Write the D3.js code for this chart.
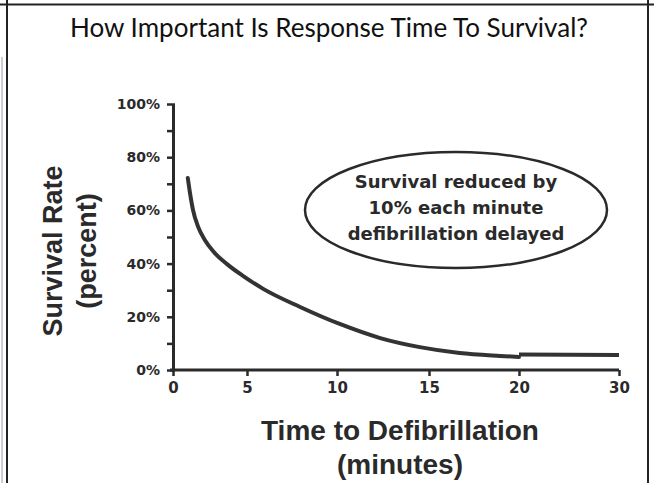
<!DOCTYPE html>
<html>
<head>
<meta charset="utf-8">
<script src="https://cdn.jsdelivr.net/npm/d3@7"></script>
<style>
  html, body { margin: 0; padding: 0; background: #fff; }
  svg { display: block; }
</style>
</head>
<body>
<div id="chart"></div>
<script>
// chart data
const chartTitle = 'How Important Is Response Time To Survival?';
const decayMinutes = [1, 1.15, 1.35, 1.7, 2.15, 2.7, 3.65, 4.75, 5.9, 7.95, 10.15, 12.35, 14.5, 16.7, 18.95, 20];
const decayRates   = [72.2, 66.5, 60.2, 53.8, 48.9, 44.7, 39.8, 35.3, 30.5, 23.7, 17.3, 12.0, 8.6, 6.4, 5.3, 4.9];
const plateauMinutes = [20, 30];
const plateauRates   = [5.8, 5.6];
const xTickValues = [0, 5, 10, 15, 20, 30];
const yTickValues = d3.range(0, 101, 10);
const calloutLines = ['Survival reduced by', '10% each minute', 'defibrillation delayed'];
const yTitleLines = ['Survival Rate', '(percent)'];
const xTitleLines = ['Time to Defibrillation', '(minutes)'];

const W = 654, H = 483;
const margin = { top: 104, right: 35, bottom: 113, left: 173 };
const width = W - margin.left - margin.right;
const height = H - margin.top - margin.bottom;
const ink = '#2a2a2a';

const svg = d3.select('#chart').append('svg')
  .attr('width', W)
  .attr('height', H);

// frame of the scanned page
svg.append('line').attr('x1', 7).attr('x2', 7).attr('y1', 0).attr('y2', H)
  .attr('stroke', '#222').attr('stroke-width', 2);
svg.append('line').attr('x1', 648).attr('x2', 648).attr('y1', 0).attr('y2', H)
  .attr('stroke', '#222').attr('stroke-width', 2);
svg.append('line').attr('x1', 0).attr('x2', W).attr('y1', 4.5).attr('y2', 4.5)
  .attr('stroke', '#222').attr('stroke-width', 2);
svg.append('line').attr('x1', 2).attr('x2', 2).attr('y1', 57).attr('y2', H)
  .attr('stroke', '#b8bcc4').attr('stroke-width', 1.5);

// title, fit to the width it has in the reference
const title = svg.append('text')
  .attr('x', 329).attr('y', 37)
  .attr('text-anchor', 'middle')
  .style('font-family', 'Lato, "Open Sans", sans-serif')
  .style('font-size', '21px')
  .attr('fill', '#111')
  .text(chartTitle);
const tw = title.node().getComputedTextLength();
title.style('font-size', (21 * 518 / tw).toFixed(2) + 'px');

const g = svg.append('g').attr('transform', `translate(${margin.left},${margin.top})`);

// the printed x axis is not evenly spaced, so map it piecewise
const x = d3.scaleLinear()
  .domain(xTickValues)
  .range([0, 74, 164, 256, 346, 446].map(p => p / 446 * width));
const y = d3.scaleLinear().domain([0, 100]).range([height, 0]);

// y axis
const yAxis = g.append('g')
  .call(d3.axisLeft(y)
    .tickValues(yTickValues)
    .tickSizeInner(6)
    .tickSizeOuter(0)
    .tickPadding(7)
    .tickFormat(d => d % 20 === 0 ? d + '%' : ''));
yAxis.select('.domain').attr('stroke', ink).attr('stroke-width', 3);
yAxis.selectAll('.tick line').attr('x2', -6).attr('x1', 2).attr('stroke', ink).attr('stroke-width', 2.5);
yAxis.selectAll('.tick text')
  .style('font-family', '"DejaVu Sans", sans-serif')
  .style('font-weight', 'bold')
  .style('font-size', '14px')
  .attr('fill', ink);

// x axis
const xAxis = g.append('g')
  .attr('transform', `translate(0,${height})`)
  .call(d3.axisBottom(x)
    .tickValues(xTickValues)
    .tickSizeInner(6)
    .tickSizeOuter(0)
    .tickPadding(6));
xAxis.select('.domain').attr('stroke', ink).attr('stroke-width', 3).attr('d', `M-3,0H${width}`);
xAxis.selectAll('.tick line').attr('stroke', ink).attr('stroke-width', 2.5);
xAxis.selectAll('.tick text')
  .style('font-family', '"DejaVu Sans", sans-serif')
  .style('font-weight', 'bold')
  .style('font-size', '15px')
  .attr('fill', ink);

// survival curve
const line = d3.line()
  .x(d => x(d[0]))
  .y(d => y(d[1]))
  .curve(d3.curveMonotoneX);

g.append('path')
  .datum(decayMinutes.map((m, i) => [m, decayRates[i]]))
  .attr('d', line)
  .attr('fill', 'none')
  .attr('stroke', '#333')
  .attr('stroke-width', 4)
  .attr('stroke-linecap', 'round');

g.append('path')
  .datum(plateauMinutes.map((m, i) => [m, plateauRates[i]]))
  .attr('d', d3.line().x(d => x(d[0])).y(d => y(d[1])))
  .attr('fill', 'none')
  .attr('stroke', '#333')
  .attr('stroke-width', 4);

// callout ellipse
const callout = svg.append('g').attr('transform', 'translate(456,210)');
callout.append('ellipse')
  .attr('rx', 151).attr('ry', 58)
  .attr('fill', 'none')
  .attr('stroke', ink)
  .attr('stroke-width', 2.5);
callout.selectAll('text')
  .data(calloutLines)
  .enter()
  .append('text')
  .attr('x', 0)
  .attr('y', (d, i) => -22 + i * 26)
  .attr('text-anchor', 'middle')
  .style('font-family', '"DejaVu Sans", sans-serif')
  .style('font-weight', 'bold')
  .style('font-size', '18px')
  .attr('fill', ink)
  .text(d => d);

// axis titles
const yTitle = svg.append('g').attr('transform', 'translate(0,251) rotate(-90)');
yTitle.selectAll('text')
  .data(yTitleLines)
  .enter()
  .append('text')
  .attr('x', 0)
  .attr('y', (d, i) => 62 + i * 34)
  .attr('text-anchor', 'middle')
  .style('font-family', '"Liberation Sans", Arial, sans-serif')
  .style('font-weight', 'bold')
  .style('font-size', '27px')
  .attr('fill', ink)
  .text(d => d);

svg.selectAll('.x-title')
  .data(xTitleLines)
  .enter()
  .append('text')
  .attr('class', 'x-title')
  .attr('x', 400)
  .attr('y', (d, i) => 440 + i * 34)
  .attr('text-anchor', 'middle')
  .style('font-family', '"Liberation Sans", Arial, sans-serif')
  .style('font-weight', 'bold')
  .style('font-size', '28px')
  .attr('fill', ink)
  .text(d => d);
</script>
</body>
</html>
